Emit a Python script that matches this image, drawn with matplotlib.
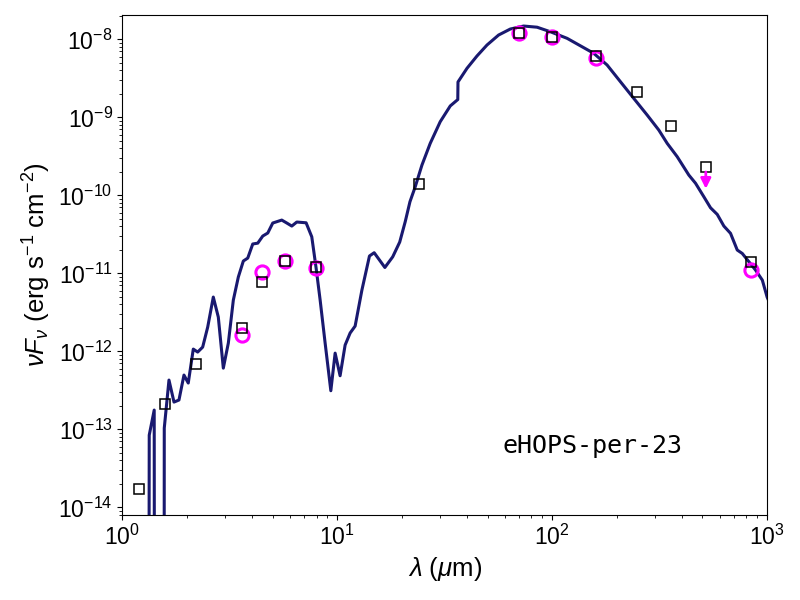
import numpy as np
import matplotlib
matplotlib.use("Agg")
import matplotlib.pyplot as plt

plt.rcParams['font.family'] = ['Liberation Sans', 'DejaVu Sans']
plt.rcParams['mathtext.fontset'] = 'custom'
plt.rcParams['mathtext.rm'] = 'Liberation Sans'
plt.rcParams['mathtext.it'] = 'Liberation Sans:italic'

# model SED (wavelength in micron, nuFnu in erg/s/cm2); 1e-20 marks the gaps
model_lam = [1.322, 1.333, 1.406, 1.414, 1.561, 1.566, 1.647, 1.738, 1.833, 1.934,
             2.025, 2.137, 2.240, 2.363, 2.494, 2.648, 2.794, 2.948, 3.111, 3.282,
             3.462, 3.653, 3.830, 4.041, 4.264, 4.498, 4.746, 5.007, 5.514, 5.818,
             6.139, 6.477, 7.156, 7.605, 7.966, 8.318, 8.774, 9.327, 9.767, 10.30,
             10.87, 11.47, 12.10, 13.01, 14.11, 14.84, 16.64, 18.10, 19.51, 20.70,
             21.77, 23.04, 24.75, 27.05, 30.11, 33.53, 36.34, 36.42, 40.11, 44.63,
             49.69, 56.27, 63.79, 73.58, 84.97, 98.0, 117.2, 155.9, 179.9, 207.6,
             239.4, 276.4, 313.1, 342.5, 381.3, 431.9, 464.0, 507.2, 544.9, 585.6,
             628.6, 675.1, 725.6, 765.6, 821.8, 883.1, 949.0, 999.0, 1050.0]
model_flux = [1e-20, 8.45e-14, 1.77e-13, 1e-20, 1e-20, 1.04e-13, 4.29e-13, 2.24e-13, 2.38e-13, 4.97e-13,
              3.93e-13, 1.07e-12, 9.8e-13, 1.135e-12, 2.05e-12, 4.97e-12, 2.75e-12, 6.1e-13, 1.28e-12, 4.55e-12,
              8.97e-12, 1.44e-11, 1.57e-11, 2.38e-11, 2.44e-11, 3.01e-11, 3.29e-11, 4.42e-11, 4.82e-11, 4.42e-11,
              4.04e-11, 4.55e-11, 4.45e-11, 2.94e-11, 1.17e-11, 4.55e-12, 1.28e-12, 3.13e-13, 9.5e-13, 4.87e-13,
              1.205e-12, 1.72e-12, 2.11e-12, 6.1e-12, 1.67e-11, 1.84e-11, 1.19e-11, 1.63e-11, 2.52e-11, 4.61e-11,
              8.28e-11, 1.29e-10, 2.44e-10, 4.64e-10, 8.79e-10, 1.40e-9, 1.69e-9, 2.84e-9, 4.25e-9, 6.11e-9,
              8.45e-9, 1.135e-8, 1.355e-8, 1.48e-8, 1.43e-8, 1.25e-8, 1.03e-8, 6.62e-9, 4.69e-9, 2.86e-9,
              1.75e-9, 1.07e-9, 6.87e-10, 4.64e-10, 3.13e-10, 1.82e-10, 1.43e-10, 9.6e-11, 6.93e-11, 5.70e-11,
              4.04e-11, 3.26e-11, 1.99e-11, 1.80e-11, 1.41e-11, 1.10e-11, 8.2e-12, 4.97e-12, 3.6e-12]

# observed photometry (squares)
obs_lam = [1.2, 1.58, 2.19, 3.59, 4.48, 5.73, 7.94, 23.9, 69.7, 99.8, 160.0, 247.0, 356.0, 839.0]
obs_flux = [1.7e-14, 2.1e-13, 6.8e-13, 1.97e-12, 7.7e-12, 1.44e-11, 1.22e-11, 1.40e-10,
            1.19e-8, 1.06e-8, 6.16e-9, 2.09e-9, 7.67e-10, 1.40e-11]

# upper limit
ul_lam = [518.0]
ul_flux = [2.29e-10]

# fitted photometry (circles)
fit_lam = [3.59, 4.48, 5.73, 7.94, 69.7, 99.8, 160.0, 839.0]
fit_flux = [1.60e-12, 1.03e-11, 1.44e-11, 1.17e-11, 1.19e-8, 1.06e-8, 5.7e-9, 1.10e-11]

fig = plt.figure(figsize=(8, 6), dpi=100)
ax = fig.add_axes([0.153, 0.1417, 0.806, 0.8333])

ax.plot(model_lam, model_flux, color='#191970', lw=2.2, zorder=2)
ax.plot(fit_lam, fit_flux, 'o', mfc='none', mec='magenta', mew=2.2, ms=9.5, zorder=3)
ax.plot(obs_lam + ul_lam, obs_flux + ul_flux, 's', mfc='none', mec='black', mew=1.1, ms=7.5, zorder=4)
for lam, f in zip(ul_lam, ul_flux):
    ax.annotate('', xy=(lam, f * 0.53), xytext=(lam, f * 0.87),
                arrowprops=dict(arrowstyle='-|>', color='magenta', lw=2,
                                mutation_scale=15, shrinkA=0, shrinkB=0), zorder=4)

ax.set_xscale('log')
ax.set_yscale('log')
ax.set_xlim(1, 1000)
ax.set_ylim(8e-15, 2.05e-8)

ax.set_xlabel(r'$\lambda$ ($\mu$m)', fontsize=18.5)
ax.set_ylabel(r'$\nu F_\nu$ (erg s$^{-1}$ cm$^{-2}$)', fontsize=18.5)
ax.tick_params(labelsize=16.5)

ax.text(0.59, 0.123, 'eHOPS-per-23', transform=ax.transAxes, fontsize=18,
        family='DejaVu Sans Mono')

fig.savefig('out.png', dpi=100)
